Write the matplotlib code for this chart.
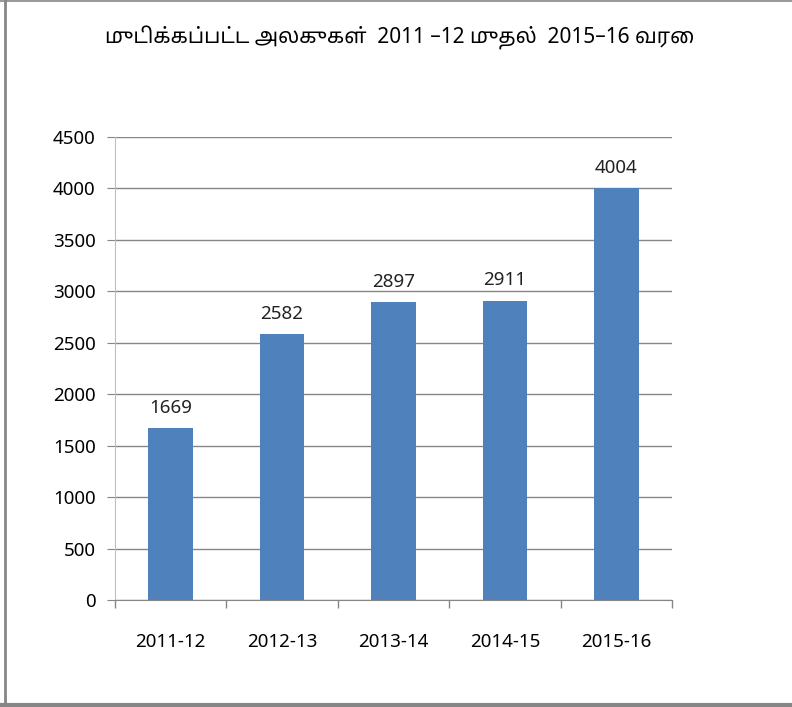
import matplotlib
matplotlib.use("agg")
import matplotlib.pyplot as plt
from matplotlib.lines import Line2D

years = ["2011-12", "2012-13", "2013-14", "2014-15", "2015-16"]
counts = [1669, 2582, 2897, 2911, 4004]
yticks = [0, 500, 1000, 1500, 2000, 2500, 3000, 3500, 4000, 4500]
title = "முடிக்கப்பட்ட அலகுகள்  2011 –12 முதல்  2015–16 வரை"

plt.rcParams['font.family'] = ['Noto Sans Tamil', 'Noto Sans', 'DejaVu Sans']

fig = plt.figure(figsize=(7.92, 7.07), dpi=100)
ax = fig.add_axes([0.1452, 0.1513, 0.7033, 0.6549])

x = range(len(years))
ax.bar(x, counts, width=0.4, color="#4f81bd", zorder=3)
for xi, v in zip(x, counts):
    ax.text(xi, v + 110, str(v), ha="center", va="bottom", fontsize=13.5, color="#222222")

ax.set_xlim(-0.5, len(years) - 0.5)
ax.set_ylim(0, 4500)
ax.set_yticks(yticks)
ax.set_yticklabels([str(t) for t in yticks], fontsize=13.5)
ax.yaxis.grid(True, color="#868686", linewidth=1, zorder=0)

# category boundaries for the tick marks
ax.set_xticks([i - 0.5 for i in range(len(years) + 1)])
ax.set_xticklabels([])
ax.set_xticks(list(x), minor=True)
ax.set_xticklabels(years, minor=True, fontsize=13.5)
ax.tick_params(axis="x", which="major", length=6, color="#868686", width=1)
ax.tick_params(axis="x", which="minor", length=0, pad=24)
ax.tick_params(axis="y", length=6, color="#868686", pad=8)

for s in ["top", "right"]:
    ax.spines[s].set_visible(False)
ax.spines["left"].set_color("#bfbfbf")
ax.spines["bottom"].set_color("#868686")

fig.text(0.505, 0.946, title, ha="center", va="center", fontsize=15, fontweight="bold")

# outer frame
fig.add_artist(Line2D([0.0063, 0.0063], [0, 1], color="#868686", linewidth=2, transform=fig.transFigure))
fig.add_artist(Line2D([0, 1], [0.998, 0.998], color="#868686", linewidth=1.2, transform=fig.transFigure))
fig.add_artist(Line2D([0, 1], [0.0035, 0.0035], color="#868686", linewidth=3, transform=fig.transFigure))

fig.savefig("out.png", dpi=100)
